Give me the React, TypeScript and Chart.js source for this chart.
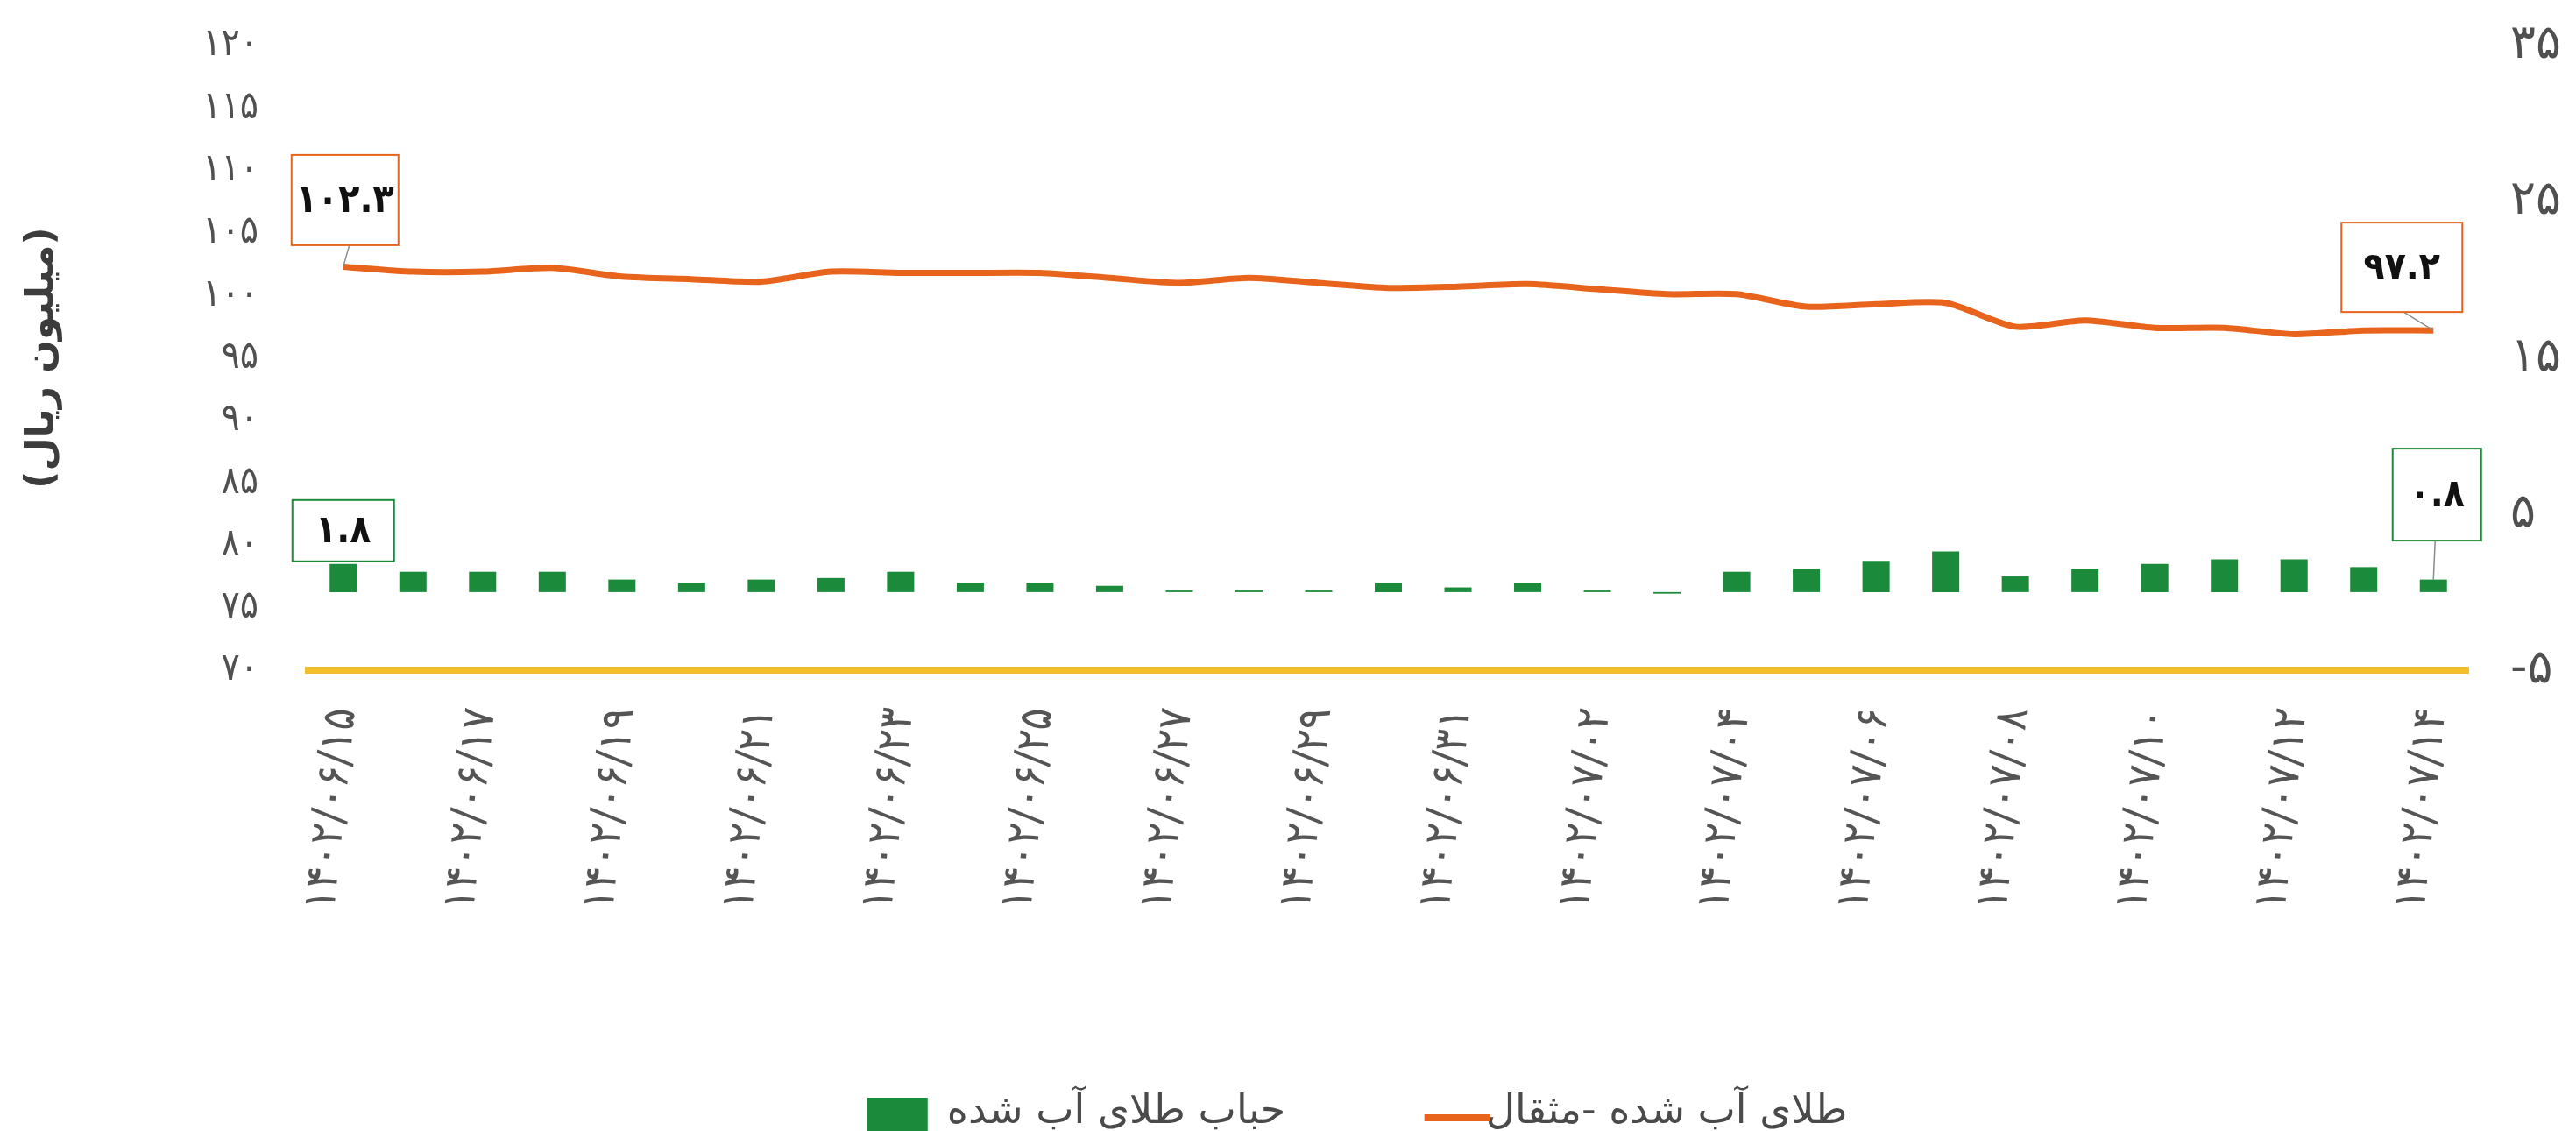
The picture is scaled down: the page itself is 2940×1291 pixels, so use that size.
import React, { useEffect, useRef } from "react";
import { Chart, registerables } from "chart.js";

Chart.register(...registerables);

// ---------- data ----------
const categories: string[] = [
  "1402/06/15", "1402/06/16", "1402/06/17", "1402/06/18", "1402/06/19", "1402/06/20",
  "1402/06/21", "1402/06/22", "1402/06/23", "1402/06/24", "1402/06/25", "1402/06/26",
  "1402/06/27", "1402/06/28", "1402/06/29", "1402/06/30", "1402/06/31", "1402/07/01",
  "1402/07/02", "1402/07/03", "1402/07/04", "1402/07/05", "1402/07/06", "1402/07/07",
  "1402/07/08", "1402/07/09", "1402/07/10", "1402/07/11", "1402/07/12", "1402/07/13",
  "1402/07/14",
];

// طلای آب شده -مثقال (million rials), left axis
const meltedGoldPrice: number[] = [
  102.3, 101.9, 101.9, 102.2, 101.5, 101.3, 101.1, 101.9, 101.8, 101.8, 101.8,
  101.4, 101.0, 101.4, 101.0, 100.6, 100.7, 100.9, 100.5, 100.1, 100.1, 99.1,
  99.3, 99.4, 97.5, 98.0, 97.4, 97.4, 96.9, 97.2, 97.2,
];

// حباب طلای آب شده, right axis
const meltedGoldBubble: number[] = [
  1.8, 1.3, 1.3, 1.3, 0.8, 0.6, 0.8, 0.9, 1.3, 0.6, 0.6, 0.4, 0.1, 0.1, 0.1, 0.6,
  0.3, 0.6, 0.1, -0.1, 1.3, 1.5, 2.0, 2.6, 1.0, 1.5, 1.8, 2.1, 2.1, 1.6, 0.8,
];

const seriesNames: string[] = ["حباب طلای آب شده", "طلای آب شده -مثقال"];
const leftAxisTitle = "\u200F(میلیون ریال)\u200F";
const leftTicks = { min: 70, max: 120, step: 5 };
const rightTicks = { min: -5, max: 35, step: 10 };

// ---------- styles ----------
const GREEN = "#1B8A3A";
const ORANGE = "#E8641C";
const GOLD = "#F2BE2A";
const TEXT = "#4a4a4a";
const FONT = '"DejaVu Sans Condensed", "DejaVu Sans", sans-serif';
const WIDE_FONT = '"DejaVu Sans", sans-serif';

const fa = (s: string) => s.replace(/[0-9]/g, (d) => "۰۱۲۳۴۵۶۷۸۹"[Number(d)]);

// callout boxes (style/offsets only; text comes from the data)
const callouts = [
  { dataset: 1, index: 0, dx: 2, dy: -76, w: 122, h: 103, color: ORANGE, leader: true, lx: 5 },
  { dataset: 1, index: 30, dx: -36, dy: -72, w: 138, h: 102, color: ORANGE, leader: true, lx: 2 },
  { dataset: 0, index: 0, dx: 0, dy: -38, w: 116, h: 70, color: GREEN, leader: false, lx: 0 },
  { dataset: 0, index: 30, dx: 4, dy: -97, w: 101, h: 105, color: GREEN, leader: true, lx: -2 },
];

const calloutPlugin = {
  id: "callouts",
  afterDatasetsDraw(chart: any) {
    const ctx = chart.ctx as CanvasRenderingContext2D;
    for (const c of callouts) {
      const el = chart.getDatasetMeta(c.dataset).data[c.index];
      const value = chart.data.datasets[c.dataset].data[c.index] as number;
      const px = el.x;
      const py = el.y;
      const cx = px + c.dx;
      const cy = py + c.dy;
      const left = cx - c.w / 2;
      const top = cy - c.h / 2;
      ctx.save();
      if (c.leader) {
        ctx.strokeStyle = "#8c8c8c";
        ctx.lineWidth = 1.5;
        ctx.beginPath();
        ctx.moveTo(cx + c.lx, top + c.h);
        ctx.lineTo(px, py);
        ctx.stroke();
      }
      ctx.fillStyle = "#ffffff";
      ctx.fillRect(left, top, c.w, c.h);
      ctx.strokeStyle = c.color;
      ctx.lineWidth = 2;
      ctx.strokeRect(left, top, c.w, c.h);
      ctx.fillStyle = "#111111";
      ctx.font = `bold 44px ${FONT}`;
      ctx.textAlign = "center";
      ctx.textBaseline = "middle";
      ctx.fillText(fa(value.toFixed(1)), cx, cy + 2);
      ctx.restore();
    }
  },
};

const legendPlugin = {
  id: "customLegend",
  afterDraw(chart: any) {
    const ctx = chart.ctx as CanvasRenderingContext2D;
    ctx.save();
    ctx.font = `46px ${WIDE_FONT}`;
    ctx.fillStyle = TEXT;
    ctx.textAlign = "center";
    ctx.textBaseline = "alphabetic";
    const baseY = 1282;
    // bar series
    const c1 = 1274;
    const w1 = ctx.measureText(seriesNames[0]).width;
    ctx.fillText(seriesNames[0], c1, baseY);
    ctx.fillStyle = GREEN;
    ctx.fillRect(c1 - w1 / 2 - 22 - 69, 1253, 69, 42);
    // line series
    ctx.fillStyle = TEXT;
    const c2 = 1902;
    const w2 = ctx.measureText(seriesNames[1]).width;
    ctx.fillText(seriesNames[1], c2, baseY);
    ctx.fillStyle = ORANGE;
    ctx.fillRect(c2 - w2 / 2 - 70, 1272, 75, 8);
    ctx.restore();
  },
};

// keep the vertical scales from pushing the plot area down
const fixVertical = (width: number) => (s: any) => {
  s.width = width;
  s.paddingTop = 0;
  s.paddingBottom = 0;
};

export default function App() {
  const canvasRef = useRef<HTMLCanvasElement | null>(null);

  useEffect(() => {
    if (!canvasRef.current) return;
    const chart = new Chart(canvasRef.current, {
      type: "bar",
      data: {
        labels: categories,
        datasets: [
          {
            type: "bar",
            label: seriesNames[0],
            data: meltedGoldBubble,
            yAxisID: "y1",
            backgroundColor: GREEN,
            borderWidth: 0,
            categoryPercentage: 1,
            barPercentage: 0.39,
            order: 2,
          },
          {
            type: "line",
            label: seriesNames[1],
            data: meltedGoldPrice,
            yAxisID: "y",
            borderColor: ORANGE,
            backgroundColor: ORANGE,
            borderWidth: 7,
            pointRadius: 0,
            tension: 0.25,
            order: 1,
          } as any,
        ],
      },
      options: {
        responsive: false,
        animation: false,
        devicePixelRatio: 1,
        layout: { autoPadding: false, padding: { top: 52, left: 0, right: 0, bottom: 0 } },
        plugins: {
          legend: { display: false },
          tooltip: { enabled: false },
        },
        scales: {
          x: {
            grid: { display: false, drawTicks: false },
            border: { display: true, color: GOLD, width: 8 },
            ticks: {
              autoSkip: false,
              minRotation: 84,
              maxRotation: 84,
              padding: 40,
              color: "#555555",
              font: { family: FONT, size: 52 },
              callback: (_v: any, i: number) => (i % 2 === 0 ? fa(categories[i]) : ""),
            },
            afterFit: (s: any) => {
              s.height = 526;
              s.paddingLeft = 0;
              s.paddingRight = 0;
            },
          },
          y: {
            position: "left",
            min: leftTicks.min,
            max: leftTicks.max,
            grid: { display: false, drawTicks: false },
            border: { display: false },
            ticks: {
              stepSize: leftTicks.step,
              padding: 57,
              color: "#505050",
              font: { family: FONT, size: 44 },
              callback: (v: any) => fa(String(v)),
            },
            title: {
              display: true,
              text: leftAxisTitle,
              color: "#3c3c3c",
              font: { family: WIDE_FONT, size: 44, weight: "bold" },
              padding: { top: 22, bottom: 0 },
            },
            afterFit: fixVertical(352),
          },
          y1: {
            position: "right",
            min: rightTicks.min,
            max: rightTicks.max,
            grid: { display: false, drawTicks: false },
            border: { display: false },
            ticks: {
              stepSize: rightTicks.step,
              padding: 48,
              color: "#505050",
              font: { family: WIDE_FONT, size: 54 },
              callback: (v: any) => fa(String(v)),
            },
            afterFit: fixVertical(123),
          },
        },
      } as any,
      plugins: [calloutPlugin, legendPlugin],
    });
    return () => chart.destroy();
  }, []);

  return (
    <div style={{ position: "fixed", left: 0, top: 0, width: 2940, height: 1291, background: "#ffffff" }}>
      <canvas ref={canvasRef} width={2940} height={1291} style={{ display: "block" }} />
    </div>
  );
}
